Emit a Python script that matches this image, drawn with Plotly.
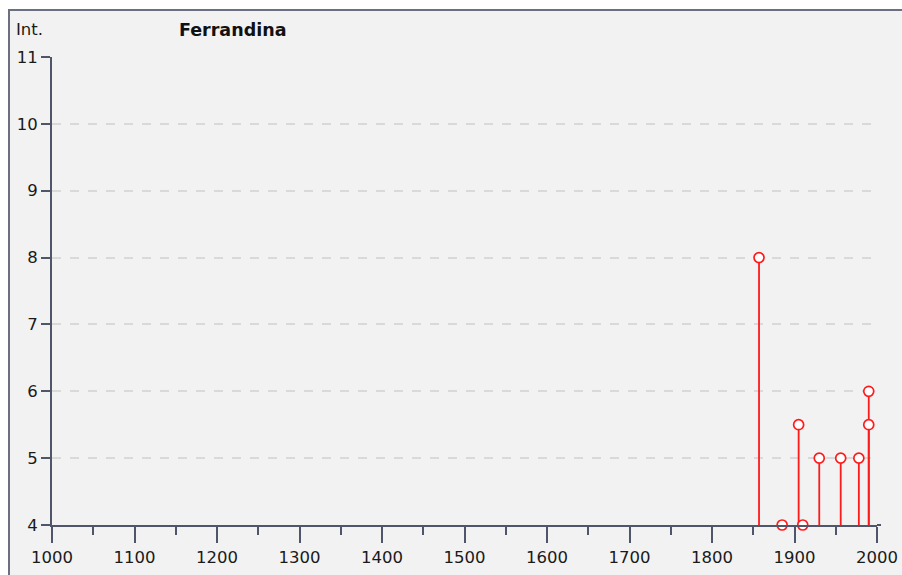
import plotly.graph_objects as go

years = [1857, 1885, 1905, 1910, 1930, 1956, 1978, 1990, 1990]
intensity = [8, 4, 5.5, 4, 5, 5, 5, 5.5, 6]
x_ticks = [1000, 1100, 1200, 1300, 1400, 1500, 1600, 1700, 1800, 1900, 2000]
y_ticks = [4, 5, 6, 7, 8, 9, 10, 11]
base = 4

stem_x, stem_y = [], []
for yr, v in zip(years, intensity):
    if v > base:
        stem_x += [yr, yr, None]
        stem_y += [base, v, None]

axis_col = "#50566a"
red = "#ff1a1a"
fig = go.Figure()
fig.add_trace(go.Scatter(x=stem_x, y=stem_y, mode="lines",
                         line=dict(color=red, width=1.8),
                         hoverinfo="skip", showlegend=False, cliponaxis=False))
fig.add_trace(go.Scatter(x=years, y=intensity, mode="markers",
                         marker=dict(symbol="circle", size=10, color="white",
                                     line=dict(color=red, width=1.7)),
                         showlegend=False, cliponaxis=False))

W, H = 902, 575
l, r, t, b = 52, 25, 57, 50
pw, ph = W - l - r, H - t - b

fig.add_shape(type="rect", xref="paper", yref="paper",
              x0=(9 - l) / pw, x1=1.2, y0=-0.5, y1=(H - b - 10) / ph,
              fillcolor="#f2f2f2", line=dict(color="#6b7080", width=2), layer="below")
# small overhang of the x axis line past the last tick, as in the reference
fig.add_shape(type="line", xref="paper", yref="paper",
              x0=1, x1=1 + 4 / pw, y0=0, y1=0, line=dict(color=axis_col, width=2))

fig.add_annotation(text="Int.", xref="paper", yref="paper",
                   x=(14 - l) / pw, y=(H - b - 30) / ph, xanchor="left", yanchor="middle",
                   showarrow=False, font=dict(family="DejaVu Sans", size=16.5, color="#1a1a1a"))
fig.add_annotation(text="<b>Ferrandina</b>", xref="paper", yref="paper",
                   x=(177 - l) / pw, y=(H - b - 30) / ph, xanchor="left", yanchor="middle",
                   showarrow=False, font=dict(family="DejaVu Sans", size=17.5, color="#111"))

fig.update_layout(
    width=W, height=H, margin=dict(l=l, r=r, t=t, b=b, autoexpand=False),
    paper_bgcolor="white", plot_bgcolor="rgba(0,0,0,0)",
    font=dict(family="DejaVu Sans", size=16.5, color="#1a1a1a"),
    xaxis=dict(range=[1000, 2000], tickvals=x_ticks, ticks="outside", ticklen=16,
               tickwidth=2, tickcolor=axis_col, showline=True, linecolor=axis_col,
               linewidth=2, showgrid=False, zeroline=False, automargin=False,
               minor=dict(dtick=50, ticks="outside", ticklen=8, tickwidth=2,
                          tickcolor=axis_col, showgrid=False)),
    yaxis=dict(range=[4, 11], tickvals=y_ticks, ticks="outside", ticklen=9,
               tickwidth=2, tickcolor=axis_col, showline=True, linecolor=axis_col,
               linewidth=2, showgrid=True, gridcolor="#d9d9d9", griddash="dash",
               gridwidth=2, zeroline=False, automargin=False),
)

fig.write_html("out.html", config={"displayModeBar": False})

with open("out.html", "r", encoding="utf-8") as f:
    html = f.read()
html = html.replace("<body>", '<body style="margin:0;overflow:hidden">', 1)
with open("out.html", "w", encoding="utf-8") as f:
    f.write(html)
